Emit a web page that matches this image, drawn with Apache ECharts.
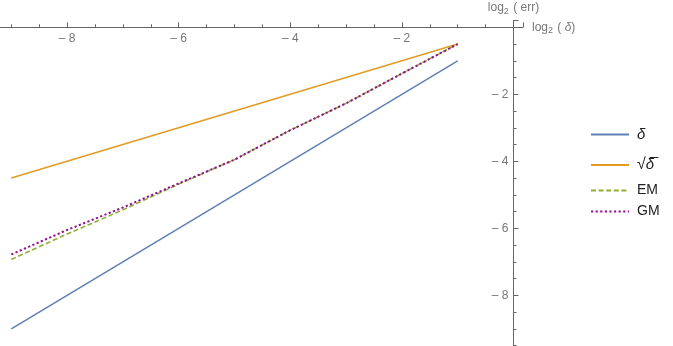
<!DOCTYPE html>
<html><head><meta charset="utf-8">
<script src="https://cdn.jsdelivr.net/npm/echarts@6/dist/echarts.min.js"></script>
<style>html,body{margin:0;padding:0;background:#fff}#c{width:673px;height:346px}</style>
</head><body><div id="c"></div>
<script>
const logDelta = [-9, -8, -7, -6, -5, -4, -3, -2, -1];
const seriesDelta = [-9, -8, -7, -6, -5, -4, -3, -2, -1];
const seriesSqrtDelta = [-4.5, -4, -3.5, -3, -2.5, -2, -1.5, -1, -0.5];
const seriesEM = [-6.93, -6.17, -5.45, -4.68, -3.95, -3.07, -2.27, -1.38, -0.5];
const seriesGM = [-6.78, -6.05, -5.38, -4.66, -3.95, -3.07, -2.27, -1.38, -0.5];
const legendNames = ['δ', '√δ', 'EM', 'GM'];

const FONT = '"Liberation Sans", Arial, sans-serif';
const AX = '#666';
const pairs = (ys) => logDelta.map((x, i) => [x, ys[i]]);
const fmt = (v) => (v >= 0 || v <= -10 ? '' : '\u2013 ' + Math.abs(v));

// layout: x=0 at 513.5px, 55.8px per unit; y=0 at 27.3px, 33.5px per unit
const GL = -44.5, GR = 673 - 523, GT = 20.6, GB = -16.3;
const xAxisOffset = -(346 - GB - 27.3);   // move bottom axis up to y = 0
const yAxisOffset = -(513.5 - GL);        // move left axis right to x = 0

const chart = echarts.init(document.getElementById('c'), null, {renderer: 'canvas'});
const legendTops = [127, 157, 183.5, 204.5];
const legends = legendNames.map((n, i) => ({
  data: [n], left: 590, top: legendTops[i], orient: 'vertical', padding: 0,
  itemWidth: 38, itemHeight: 14, itemGap: 8, selectedMode: false,
  itemStyle: {opacity: 0},
  textStyle: {fontFamily: FONT, fontSize: 14, color: '#222', padding: [0, 0, 0, 3],
    rich: {it: {fontStyle: 'italic', fontFamily: FONT, fontSize: 15, color: '#222'},
           rad: {fontFamily: FONT, fontSize: 16, color: '#222'}}},
  formatter: (name) => name === 'δ' ? '{it|δ}' : (name === '√δ' ? '{rad|√}{it|δ\u0305}' : name)
}));

chart.setOption({
  animation: false,
  grid: {left: GL, right: GR, top: GT, bottom: GB, containLabel: false, outerBoundsMode: 'none'},
  legend: legends,
  xAxis: {
    type: 'value', min: -10, max: 0.17, interval: 2, position: 'bottom', offset: xAxisOffset,
    axisLine: {onZero: false, lineStyle: {color: AX, width: 1}},
    axisTick: {inside: true, length: 5, lineStyle: {color: AX}},
    minorTick: {show: true, splitNumber: 4, length: 3, lineStyle: {color: AX}},
    splitLine: {show: false},
    axisLabel: {formatter: fmt, color: '#777', fontFamily: FONT, fontSize: 12, margin: 5},
    name: '{l|log}{s|2}{l| ( }{i|δ}{l|)}', nameLocation: 'end', nameGap: 9,
    nameTextStyle: {align: 'left', verticalAlign: 'middle', rich: {
      l: {fontFamily: FONT, fontSize: 12, color: '#777'},
      s: {fontFamily: FONT, fontSize: 9, color: '#777', padding: [6, 1, 0, 0]},
      i: {fontFamily: FONT, fontSize: 12, color: '#777', fontStyle: 'italic'}}}
  },
  yAxis: {
    type: 'value', min: -10, max: 0.2, interval: 2, position: 'left', offset: yAxisOffset,
    axisLine: {onZero: false, lineStyle: {color: AX, width: 1}},
    axisTick: {inside: true, length: 5, lineStyle: {color: AX}},
    minorTick: {show: true, splitNumber: 4, length: 3, lineStyle: {color: AX}},
    splitLine: {show: false},
    axisLabel: {formatter: fmt, color: '#777', fontFamily: FONT, fontSize: 12, margin: 5},
    name: '{l|log}{s|2}{l| ( err)}', nameLocation: 'end', nameGap: 12.5,
    nameTextStyle: {align: 'center', verticalAlign: 'middle', rich: {
      l: {fontFamily: FONT, fontSize: 12, color: '#777'},
      s: {fontFamily: FONT, fontSize: 9, color: '#777', padding: [6, 1, 0, 0]}}}
  },
  series: [
    {name: 'δ', type: 'line', data: pairs(seriesDelta), symbol: 'none',
     lineStyle: {color: '#5E81B5', width: 1.5}, itemStyle: {color: '#5E81B5'}},
    {name: '√δ', type: 'line', data: pairs(seriesSqrtDelta), symbol: 'none',
     lineStyle: {color: '#E19C24', width: 1.5}, itemStyle: {color: '#E19C24'}},
    {name: 'EM', type: 'line', data: pairs(seriesEM), symbol: 'none',
     lineStyle: {color: '#8FB032', width: 1.6, type: [5, 2.6]}, itemStyle: {color: '#8FB032'}},
    {name: 'GM', type: 'line', data: pairs(seriesGM), symbol: 'none',
     lineStyle: {color: '#931093', width: 2, type: [2.2, 2.4]}, itemStyle: {color: '#931093'}}
  ]
});
</script></body></html>
